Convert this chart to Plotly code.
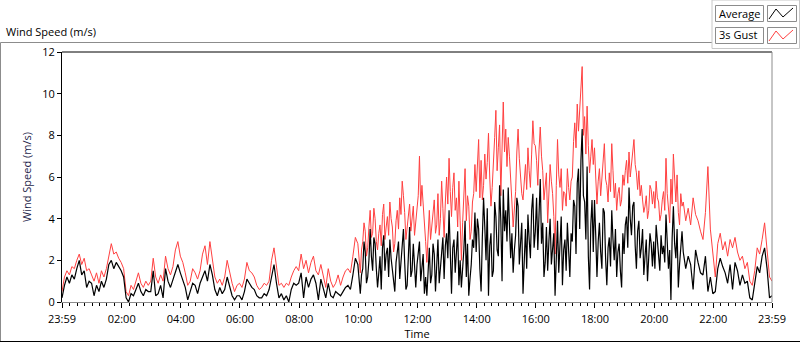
import plotly.graph_objects as go

# ---- data ----
# 23:59 -> 09:59, one row per hour, 5-minute samples
gust_night = [
    0.5, 1.2, 1.5, 1.3, 1.7, 1.6, 2.0, 2.3, 1.8, 2.1, 1.5, 1.6,
    1.3, 1.0, 1.4, 0.9, 1.5, 1.2, 1.6, 2.2, 2.8, 2.3, 2.4, 2.1,
    1.9, 1.6, 0.5, 0.3, 0.8, 0.6, 1.0, 1.4, 0.9, 0.7, 1.0, 0.8,
    1.0, 2.1, 1.2, 0.9, 1.3, 1.0, 2.2, 1.6, 1.3, 1.7, 2.5, 2.9,
    2.2, 1.9, 1.4, 0.8, 1.0, 1.6, 1.4, 1.1, 1.5, 2.3, 2.7, 1.8,
    2.9, 2.1, 1.2, 0.9, 1.1, 0.8, 1.2, 2.0, 1.4, 0.9, 0.5, 0.8,
    0.9, 0.7, 1.1, 1.9, 1.5, 1.4, 1.2, 0.8, 0.6, 0.7, 0.9, 0.8,
    1.0, 2.0, 2.6, 1.6, 0.8, 0.9, 0.7, 0.9, 0.8, 1.2, 1.5, 1.7,
    1.5, 2.3, 1.6, 2.0, 1.4, 1.9, 2.2, 1.5, 1.3, 1.8, 1.2, 0.7,
    1.6, 1.0, 0.7, 0.9, 1.3, 0.8, 1.2, 1.5, 1.6, 1.4, 2.2, 3.1,
]
average_night = [
    0.2, 0.8, 1.2, 0.9, 1.3, 1.1, 1.6, 2.0, 1.3, 1.5, 0.7, 1.0,
    0.9, 0.3, 0.8, 0.5, 1.0, 0.7, 1.1, 1.8, 2.0, 1.6, 1.9, 1.7,
    1.5, 1.2, 0.2, 0.0, 0.4, 0.3, 0.6, 0.9, 0.5, 0.3, 0.6, 0.5,
    0.5, 1.5, 0.3, 0.4, 0.8, 0.2, 1.6, 1.0, 0.7, 1.1, 1.5, 1.8,
    1.4, 1.0, 0.7, 0.1, 0.5, 0.9, 0.8, 0.4, 0.9, 1.2, 1.5, 1.0,
    1.8, 1.3, 0.6, 0.3, 0.7, 0.4, 0.6, 1.2, 0.8, 0.3, 0.1, 0.3,
    0.3, 0.1, 0.5, 1.1, 0.9, 0.7, 0.6, 0.3, 0.2, 0.2, 0.4, 0.3,
    0.6, 1.3, 1.8, 0.9, 0.2, 0.4, 0.1, 0.3, 0.0, 0.6, 0.9, 0.8,
    0.9, 1.4, 0.2, 1.2, 0.7, 1.1, 1.3, 0.9, 0.1, 1.1, 0.6, 0.2,
    0.9, 0.3, 0.2, 0.5, 0.4, 0.3, 0.5, 0.7, 0.8, 0.6, 1.3, 2.1,
]

# 09:59 -> 20:59, one row per hour, 2.5-minute samples (gusty period)
gust_day = [
    2.8, 2.1, 1.4, 2.5, 2.9, 3.8, 3.4, 2.2, 2.6, 3.6, 4.4, 3.1, 3.3, 4.5, 4.0, 2.9, 2.5, 3.3, 3.7, 2.7, 4.2, 4.7, 3.0, 3.6,
    4.1, 3.2, 4.8, 4.0, 3.6, 2.4, 2.8, 3.9, 4.4, 3.5, 5.0, 4.2, 5.8, 5.1, 4.3, 3.0, 3.6, 4.1, 4.7, 3.4, 3.9, 4.6, 3.2, 3.8,
    4.2, 5.1, 7.0, 4.6, 5.6, 4.8, 3.8, 2.9, 1.9, 3.5, 4.4, 3.0, 3.6, 4.3, 4.9, 3.3, 3.7, 5.2, 3.2, 4.0, 5.8, 4.5, 3.1, 4.8,
    6.0, 4.7, 6.9, 5.3, 4.1, 5.5, 6.2, 4.4, 5.0, 3.6, 5.8, 3.9, 2.0, 3.8, 5.0, 6.4, 3.9, 5.1, 4.6, 3.0, 3.4, 4.8, 5.2, 6.6,
    5.3, 6.4, 7.8, 5.0, 6.8, 4.9, 5.6, 7.1, 5.9, 6.7, 8.1, 6.0, 4.6, 5.5, 6.5, 7.9, 9.2, 6.3, 7.4, 8.5, 5.1, 7.0, 9.6, 7.2,
    8.3, 6.5, 7.9, 7.0, 6.1, 4.8, 3.6, 4.4, 5.3, 7.2, 8.3, 6.9, 6.0, 5.2, 4.9, 6.1, 6.6, 5.4, 7.4, 6.3, 5.5, 7.1, 8.7, 7.6,
    7.5, 6.8, 5.6, 7.3, 8.4, 7.0, 6.3, 4.9, 5.7, 6.2, 3.8, 5.0, 6.6, 5.8, 5.2, 4.1, 2.3, 5.6, 7.8, 6.1, 5.5, 6.4, 4.4, 5.3,
    5.2, 4.6, 6.4, 5.5, 4.9, 5.8, 6.0, 7.7, 8.6, 7.4, 9.5, 8.2, 9.1, 10.0, 11.3, 8.0, 8.9, 7.1, 9.4, 7.5, 6.2, 7.0, 7.8, 6.6,
    7.4, 6.0, 4.7, 5.8, 6.4, 5.1, 6.0, 6.9, 7.6, 5.9, 5.6, 4.8, 6.2, 5.3, 7.6, 6.3, 5.0, 5.7, 4.4, 5.2, 5.5, 4.6, 4.9, 6.1,
    5.6, 6.3, 6.8, 5.7, 7.2, 6.0, 6.5, 7.0, 7.8, 6.6, 6.2, 5.4, 6.3, 5.1, 5.6, 4.9, 4.3, 4.6, 5.1, 4.0, 4.4, 5.6, 5.4, 4.7,
    5.3, 4.5, 5.8, 5.0, 4.8, 3.9, 4.2, 4.9, 5.3, 4.4, 6.9, 5.2, 4.6, 3.8, 5.9, 4.7, 7.1, 5.5, 4.8, 6.1, 4.3, 3.7, 5.2, 4.6,
]
average_day = [
    1.8, 1.1, 0.4, 1.3, 1.6, 2.9, 2.4, 0.9, 1.2, 2.0, 3.5, 2.2, 1.5, 3.1, 2.8, 1.6, 0.7, 1.4, 2.2, 0.6, 2.6, 3.2, 1.5, 2.3,
    2.6, 1.2, 3.0, 2.1, 1.6, 0.8, 0.5, 1.9, 2.4, 2.9, 1.1, 2.0, 3.1, 3.5, 1.9, 0.6, 0.8, 2.7, 3.6, 1.2, 1.5, 2.8, 1.8, 0.7,
    1.8, 2.5, 2.9, 1.0, 1.5, 2.3, 0.4, 1.2, 0.3, 1.7, 2.6, 0.9, 1.3, 2.8, 2.3, 0.5, 1.8, 3.0, 0.9, 1.6, 2.4, 3.1, 1.1, 2.7,
    3.3, 2.1, 4.4, 1.9, 0.4, 2.6, 3.0, 1.4, 2.2, 3.4, 0.8, 2.0, 0.7, 1.5, 2.5, 3.9, 1.2, 2.8, 0.3, 1.1, 1.8, 3.0, 2.6, 4.3,
    2.4, 4.0, 3.5, 1.6, 0.5, 3.1, 5.0, 3.6, 2.0, 4.5, 0.3, 2.7, 3.3, 1.2, 1.5, 4.8, 4.1, 2.5, 2.2, 5.6, 3.9, 1.0, 5.4, 3.4,
    4.4, 2.9, 5.5, 3.7, 2.1, 3.3, 1.4, 2.5, 3.2, 5.0, 4.6, 1.8, 2.7, 3.8, 0.4, 2.4, 3.5, 1.6, 4.2, 3.0, 2.1, 4.4, 5.2, 2.6,
    3.4, 5.0, 2.5, 4.2, 5.9, 2.8, 3.8, 1.2, 1.9, 3.6, 1.5, 2.9, 4.0, 1.8, 2.6, 3.3, 0.3, 2.7, 3.9, 1.4, 2.9, 4.1, 0.8, 2.5,
    3.0, 1.5, 3.8, 2.6, 1.2, 3.3, 2.9, 4.9, 4.6, 2.3, 5.7, 6.4, 3.5, 6.8, 8.3, 5.1, 4.8, 3.0, 6.5, 2.2, 0.6, 3.7, 4.9, 2.4,
    4.9, 3.2, 1.2, 2.9, 3.8, 2.4, 1.6, 4.5, 4.3, 2.1, 0.8, 2.6, 3.1, 1.7, 4.4, 3.0, 2.0, 3.5, 1.2, 2.4, 2.8, 1.5, 0.7, 3.3,
    2.3, 3.7, 4.1, 2.6, 5.5, 4.0, 3.2, 4.6, 4.8, 2.7, 1.6, 3.4, 3.9, 2.1, 2.6, 3.5, 1.3, 2.2, 3.0, 1.0, 1.9, 3.3, 2.8, 1.7,
    2.9, 1.6, 3.7, 2.8, 2.4, 1.5, 3.2, 2.3, 2.7, 1.9, 4.2, 3.0, 1.6, 2.5, 0.1, 3.1, 4.6, 2.8, 2.1, 3.5, 0.7, 1.8, 2.6, 3.4,
]

# 20:59 -> 23:59, one row per hour, 5-minute samples (last value at 23:59)
gust_evening = [
    4.8, 3.9, 4.5, 3.7, 5.0, 4.2, 3.9, 3.4, 3.0, 4.3, 6.5, 3.5,
    2.3, 1.2, 2.8, 3.3, 2.5, 2.9, 2.2, 3.0, 2.6, 3.1, 2.4, 2.0,
    2.2, 1.6, 1.9, 1.0, 0.8, 1.5, 2.6, 2.3, 3.0, 3.8, 2.5, 1.2,
    1.0,
]
average_evening = [
    2.4, 1.6, 2.2, 1.8, 0.6, 2.5, 1.9, 1.4, 1.3, 2.2, 0.5, 1.2,
    0.4, 0.5, 1.6, 2.1, 1.7, 1.4, 0.9, 1.8, 0.6, 1.9, 1.5, 0.8,
    1.3, 0.9, 1.0, 0.2, 0.1, 0.9, 1.7, 1.4, 2.2, 2.6, 1.6, 0.2,
    0.3,
]

tick_minutes = [0, 121, 241, 361, 481, 601, 721, 841, 961, 1081, 1201, 1321, 1440]
tick_labels = ["23:59", "02:00", "04:00", "06:00", "08:00", "10:00", "12:00",
               "14:00", "16:00", "18:00", "20:00", "22:00", "23:59"]
y_ticks = [0, 2, 4, 6, 8, 10, 12]

# sample times in minutes after 23:59
minutes = ([5 * i for i in range(len(gust_night))]
           + [600 + 2.5 * i for i in range(len(gust_day))]
           + [1260 + 5 * i for i in range(len(gust_evening))])
gust = gust_night + gust_day + gust_evening
average = average_night + average_day + average_evening

# ---- figure geometry helpers (pixel -> paper) ----
W, H = 800, 342
L, R, T, B = 62, 772, 52, 302


def px(x):
    return (x - L) / (R - L)


def py(y):
    return (B - y) / (B - T)


FONT = "Open Sans"

fig = go.Figure()
fig.add_trace(go.Scatter(x=minutes, y=gust, mode="lines", name="3s Gust",
                         line=dict(color="#ff4040", width=1)))
fig.add_trace(go.Scatter(x=minutes, y=average, mode="lines", name="Average",
                         line=dict(color="#000000", width=1.2)))

fig.update_layout(
    width=W, height=H,
    margin=dict(l=L, r=W - R, t=T, b=H - B, pad=0, autoexpand=False),
    paper_bgcolor="white", plot_bgcolor="white",
    showlegend=False,
    font=dict(family=FONT, size=11, color="#000000"),
    xaxis=dict(
        range=[0, 1440], showgrid=False, zeroline=False, automargin=False,
        showline=True, linecolor="#8c8c8c", linewidth=1,
        tickmode="array", tickvals=tick_minutes, ticktext=tick_labels,
        ticks="outside", ticklen=5, tickcolor="#000000", tickwidth=1,
        ticklabelstandoff=2,
        minor=dict(ticks="outside", ticklen=3, tickcolor="#000000",
                   tickvals=list(range(1, 1440, 15))),
        tickfont=dict(size=11, color="#000000"),
        title=dict(text="Time", standoff=5, font=dict(size=11, color="#000000")),
    ),
    yaxis=dict(
        range=[0, 12], showgrid=False, zeroline=False, automargin=False,
        showline=True, linecolor="#000000", linewidth=1,
        tickmode="array", tickvals=y_ticks,
        ticks="outside", ticklen=4, tickcolor="#000000",
        tickfont=dict(size=11, color="#000000"),
        title=dict(text="Wind Speed (m/s)", standoff=8,
                   font=dict(size=11, color="#1e1e4a")),
    ),
)

shapes = []
# plot frame: black top, grey right
shapes.append(dict(type="line", xref="paper", yref="paper", x0=0, x1=1, y0=1, y1=1,
                   line=dict(color="#000000", width=1)))
shapes.append(dict(type="line", xref="paper", yref="paper", x0=1, x1=1, y0=0, y1=1,
                   line=dict(color="#8c8c8c", width=1)))
# outer control frame
shapes.append(dict(type="line", xref="paper", yref="paper", x0=px(0.5), x1=px(712),
                   y0=py(42.5), y1=py(42.5), line=dict(color="#8c8c8c", width=1)))
shapes.append(dict(type="line", xref="paper", yref="paper", x0=px(0.5), x1=px(0.5),
                   y0=py(42.5), y1=py(342), line=dict(color="#8c8c8c", width=1)))
shapes.append(dict(type="line", xref="paper", yref="paper", x0=px(0), x1=px(800),
                   y0=py(341.5), y1=py(341.5), line=dict(color="#000000", width=1)))
# legend panel
shapes.append(dict(type="rect", xref="paper", yref="paper", x0=px(712), x1=px(799.5),
                   y0=py(48.5), y1=py(0), line=dict(color="#c8c8c8", width=1),
                   fillcolor="rgba(0,0,0,0)"))
legend_rows = [("Average", "#000000", 5, 21), ("3s Gust", "#ff4040", 27, 43)]
for label, color, y0, y1 in legend_rows:
    shapes.append(dict(type="rect", xref="paper", yref="paper", x0=px(715.5), x1=px(763.5),
                       y0=py(y1 + 0.5), y1=py(y0 + 0.5), line=dict(color="#8c8c8c", width=1),
                       fillcolor="white"))
    shapes.append(dict(type="rect", xref="paper", yref="paper", x0=px(767.5), x1=px(796.5),
                       y0=py(y1 + 0.5), y1=py(y0 + 0.5), line=dict(color="#8c8c8c", width=1),
                       fillcolor="white"))
    pts = [(769, y1 - 2), (776, y0 + 4), (783, y1 - 4), (793, y0 + 3)]
    path = "M " + " L ".join(f"{px(a)},{py(b)}" for a, b in pts)
    shapes.append(dict(type="path", xref="paper", yref="paper", path=path,
                       line=dict(color=color, width=1)))
    fig.add_annotation(x=px(717), y=py((y0 + y1) / 2), xref="paper", yref="paper",
                       text=label, showarrow=False, xanchor="left", yanchor="middle",
                       font=dict(family=FONT, size=11, color="#000000"))

fig.update_layout(shapes=shapes)

fig.add_annotation(x=px(4), y=py(32), xref="paper", yref="paper",
                   text="Wind Speed (m/s)", showarrow=False,
                   xanchor="left", yanchor="middle",
                   font=dict(family=FONT, size=11, color="#000000"))

fig.write_html("out.html", config={"displayModeBar": False},
               post_script="document.body.style.margin='0';document.body.style.overflow='hidden';")
